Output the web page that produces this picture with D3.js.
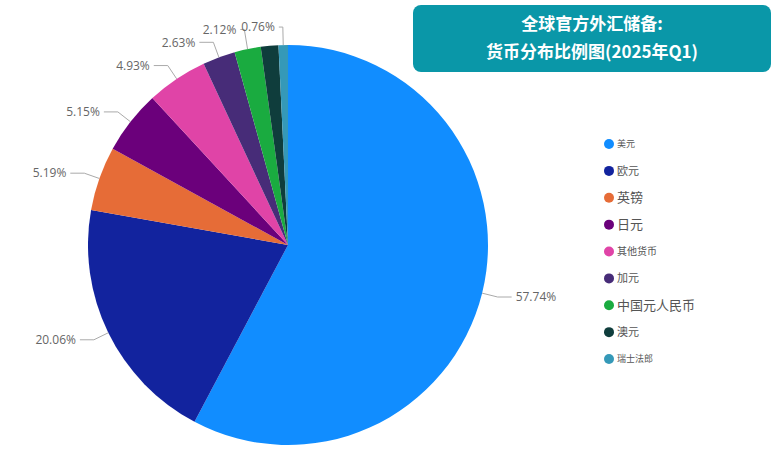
<!DOCTYPE html><html><head><meta charset="utf-8"><script src="https://cdn.jsdelivr.net/npm/d3@7"></script>
<style>body{margin:0;background:#fff;font-family:"Noto Sans CJK SC","Noto Sans",sans-serif}</style></head><body>
<svg id="c" width="777" height="460"></svg>
<script>
const categories=["美元","欧元","英镑","日元","其他货币","加元","中国元人民币","澳元","瑞士法郎"];
const values=[57.74,20.06,5.19,5.15,4.93,2.63,2.12,1.42,0.76];
const labels=["57.74%","20.06%","5.19%","5.15%","4.93%","2.63%","2.12%","","0.76%"];
const colors=["#118DFF","#12239E","#E66C37","#6B007B","#E044A7","#472C78","#1AAB40","#0F3D3C","#3599B8"];
const legendSizes=[9,11,13,13,10,11,13,11,9];
const svg=d3.select("#c");
const cx=288,cy=245,r=200;
const g=svg.append("g").attr("transform",`translate(${cx},${cy})`);
const pie=d3.pie().sort(null).value(d=>d)(values);
const arc=d3.arc().innerRadius(0).outerRadius(r);
g.selectAll("path").data(pie).join("path").attr("d",arc).attr("fill",(d,i)=>colors[i]);
const yAdj={6:-4,8:-2};
pie.forEach((d,i)=>{
  if(!labels[i])return;
  const a=(d.startAngle+d.endAngle)/2;
  const p0=[Math.sin(a)*r,-Math.cos(a)*r];
  const p1=[Math.sin(a)*(r+16),-Math.cos(a)*(r+16)+(yAdj[i]||0)];
  const right=p1[0]>0;
  const h=i>=6?4:14;
  const p2=[p1[0]+(right?h:-h),p1[1]];
  g.append("polyline").attr("points",[p0,p1,p2].map(p=>p.join(",")).join(" "))
   .attr("fill","none").attr("stroke","#aaa").attr("stroke-width",1);
  g.append("text").attr("x",p2[0]+(right?4:-4)).attr("y",p1[1]).attr("dy","0.35em")
   .attr("text-anchor",right?"start":"end").attr("font-size",12).attr("fill","#666")
   .attr("font-family","Segoe UI,Open Sans,sans-serif").text(labels[i]);
});
svg.append("rect").attr("x",413).attr("y",5).attr("width",358).attr("height",67).attr("rx",8).attr("fill","#0A97A8");
[["全球官方外汇储备:",30],["货币分布比例图(2025年Q1)",58]].forEach(([t,y])=>
  svg.append("text").attr("x",592).attr("y",y).attr("text-anchor","middle").attr("fill","#fff")
   .attr("font-size",17).attr("font-weight","bold").text(t));
const ly=d3.scalePoint().domain(categories).range([144,359]);
categories.forEach((c,i)=>{
  svg.append("circle").attr("cx",609).attr("cy",ly(c)).attr("r",5).attr("fill",colors[i]);
  svg.append("text").attr("x",617).attr("y",ly(c)).attr("dy","0.35em").attr("font-size",legendSizes[i]).attr("fill","#555").text(c);
});
</script></body></html>
